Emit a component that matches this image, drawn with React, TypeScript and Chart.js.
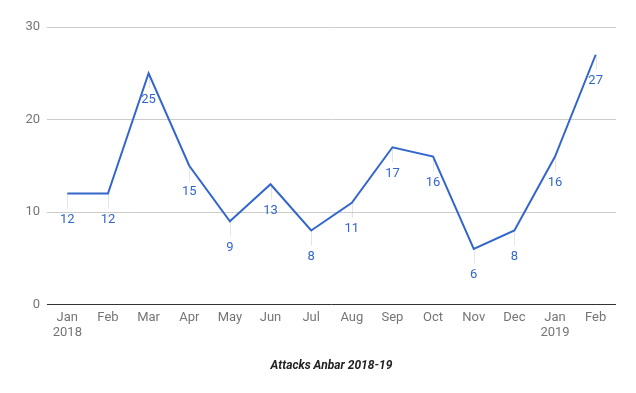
import React, { useEffect, useRef } from "react";
import { Chart, registerables } from "chart.js";

Chart.register(...registerables);

const months: (string | string[])[] = [
  ["Jan", "2018"], "Feb", "Mar", "Apr", "May", "Jun", "Jul", "Aug", "Sep", "Oct", "Nov", "Dec", ["Jan", "2019"], "Feb",
];
const attacks: number[] = [12, 12, 25, 15, 9, 13, 8, 11, 17, 16, 6, 8, 16, 27];
const yTicks: number[] = [0, 10, 20, 30];
const chartTitle = "Attacks Anbar 2018-19";

const FONT = "Roboto, 'Noto Sans', sans-serif";

const annotationPlugin = {
  id: "annotations",
  beforeDatasetsDraw(chart: any) {
    const ctx = chart.ctx;
    const meta = chart.getDatasetMeta(0);
    ctx.save();
    ctx.strokeStyle = "rgba(153,153,153,0.25)";
    ctx.lineWidth = 1;
    meta.data.forEach((pt: any) => {
      const x = Math.round(pt.x) + 0.5;
      ctx.beginPath();
      ctx.moveTo(x, pt.y);
      ctx.lineTo(x, pt.y + 15);
      ctx.stroke();
    });
    ctx.restore();
  },
  afterDatasetsDraw(chart: any) {
    const ctx = chart.ctx;
    const meta = chart.getDatasetMeta(0);
    ctx.save();
    ctx.fillStyle = "#3366cc";
    ctx.font = `13px ${FONT}`;
    ctx.textAlign = "center";
    ctx.textBaseline = "middle";
    meta.data.forEach((pt: any, i: number) => {
      ctx.fillText(String(attacks[i]), pt.x, pt.y + 26);
    });
    ctx.restore();
  },
  afterDraw(chart: any) {
    const ctx = chart.ctx;
    const area = chart.chartArea;
    ctx.save();
    ctx.fillStyle = "#222222";
    ctx.font = `italic bold 12px ${FONT}`;
    ctx.textAlign = "center";
    ctx.textBaseline = "middle";
    ctx.fillText(chartTitle, (area.left + area.right) / 2, 366);
    ctx.restore();
  },
};

export default function App() {
  const ref = useRef<HTMLCanvasElement | null>(null);
  useEffect(() => {
    if (!ref.current) return;
    const chart = new Chart(ref.current, {
      type: "line",
      data: {
        labels: months as any,
        datasets: [
          {
            data: attacks,
            borderColor: "#3366cc",
            borderWidth: 2,
            pointRadius: 0,
            pointHoverRadius: 0,
            tension: 0,
            fill: false,
          },
        ],
      },
      options: {
        animation: false,
        responsive: false,
        maintainAspectRatio: false,
        layout: { padding: { top: 27, right: 20, bottom: 0, left: 0 } },
        plugins: { legend: { display: false }, tooltip: { enabled: false }, title: { display: false } },
        scales: {
          x: {
            offset: true,
            grid: { display: false, drawTicks: false },
            border: { display: false },
            ticks: {
              color: "#757575",
              font: { family: FONT, size: 13, lineHeight: 15 / 13 },
              padding: 6,
              maxRotation: 0,
              autoSkip: false,
            },
            afterFit: (s: any) => {
              s.height = 88.5;
            },
          },
          y: {
            min: 0,
            max: 30,
            afterBuildTicks: (s: any) => {
              s.ticks = yTicks.map((v) => ({ value: v }));
            },
            grid: {
              drawTicks: false,
              color: (c: any) => (c.tick && c.tick.value === 0 ? "#333333" : "#cccccc"),
              lineWidth: 1,
            },
            border: { display: false },
            ticks: {
              color: "#757575",
              font: { family: FONT, size: 13 },
              padding: 7,
            },
            afterFit: (s: any) => {
              s.width = 47;
            },
          },
        },
      },
      plugins: [annotationPlugin],
    });
    return () => chart.destroy();
  }, []);
  return (
    <div style={{ position: "fixed", left: 0, top: 0, width: 636, height: 393, background: "#fff" }}>
      <canvas ref={ref} width={636} height={393} style={{ display: "block", width: 636, height: 393 }} />
    </div>
  );
}
